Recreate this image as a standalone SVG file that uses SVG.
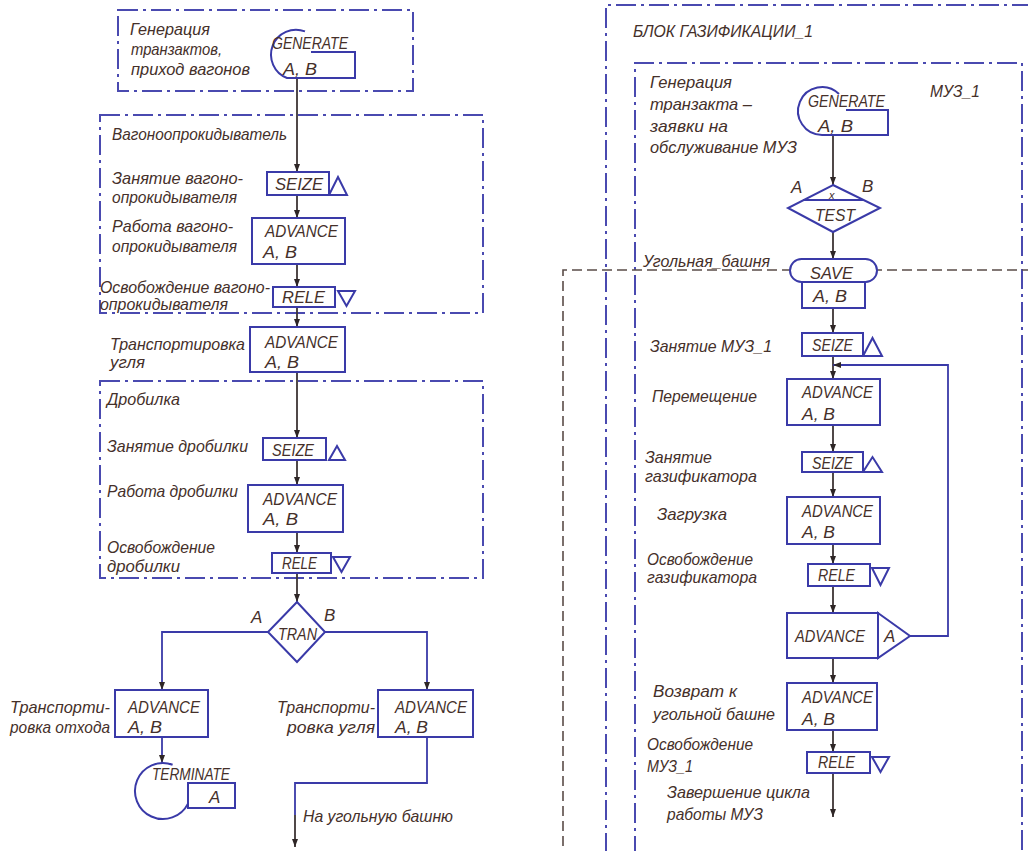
<svg xmlns="http://www.w3.org/2000/svg" width="1028" height="851" viewBox="0 0 1028 851">
<defs>
<style>
.t{font-family:'Liberation Sans',Arial,sans-serif;font-style:italic;font-size:17px;fill:#45302a}
.b{font-family:'Liberation Sans',Arial,sans-serif;font-style:italic;font-size:17px;fill:#45302a}
.blk{fill:#fff;stroke:#3a3aa8;stroke-width:2}
.ol{fill:none;stroke:#3a3aa8;stroke-width:2}
.fr{fill:none;stroke:#4a4ab0;stroke-width:2;stroke-dasharray:20 5 3 5}
.dl{fill:none;stroke:#5a4c48;stroke-width:1.6;stroke-dasharray:10 5}
.c{fill:none;stroke:#3d3535;stroke-width:1.8}
.cb{fill:none;stroke:#3a3aa8;stroke-width:1.8}
</style>
<marker id="ar" viewBox="0 0 8 6" markerWidth="8" markerHeight="6" refX="8" refY="3" orient="auto" markerUnits="userSpaceOnUse">
<path d="M0,0 L8,3 L0,6 z" fill="#2e2626"/>
</marker>
</defs>
<rect width="1028" height="851" fill="#fff"/>

<g id="frames">
<rect class="fr" x="118" y="10" width="295" height="81"/>
<rect class="fr" x="100" y="115" width="383" height="198"/>
<rect class="fr" x="100" y="381" width="383" height="197"/>
<path class="fr" d="M1032,5 H606 V856"/>
<path class="fr" d="M635,856 V63 H1022 V856"/>
<path class="dl" d="M1032,270 H563 V856"/>
</g>

<g id="connectors">
<path class="c" d="M297,78 V172" marker-end="url(#ar)"/>
<path class="c" d="M297,195 V218" marker-end="url(#ar)"/>
<path class="c" d="M297,264 V287" marker-end="url(#ar)"/>
<path class="c" d="M297,307 V327" marker-end="url(#ar)"/>
<path class="c" d="M297,372 V438" marker-end="url(#ar)"/>
<path class="c" d="M297,460 V485" marker-end="url(#ar)"/>
<path class="c" d="M297,532 V553" marker-end="url(#ar)"/>
<path class="c" d="M297,573 V602" marker-end="url(#ar)"/>
<path class="cb" d="M268,632 H162 V690" marker-end="url(#ar)"/>
<path class="cb" d="M323,632 H427 V690" marker-end="url(#ar)"/>
<path class="cb" d="M162,737 V763" marker-end="url(#ar)"/>
<path class="cb" d="M427,737 V783 H295 V815"/>
<path class="c" d="M295,815 V847" marker-end="url(#ar)"/>
<path class="c" d="M833,135 V185" marker-end="url(#ar)"/>
<path class="c" d="M833,232 V259" marker-end="url(#ar)"/>
<path class="c" d="M833,308 V333" marker-end="url(#ar)"/>
<path class="c" d="M833,356 V379" marker-end="url(#ar)"/>
<path class="c" d="M833,425 V452" marker-end="url(#ar)"/>
<path class="c" d="M833,472 V497" marker-end="url(#ar)"/>
<path class="c" d="M833,544 V564" marker-end="url(#ar)"/>
<path class="c" d="M833,586 V613" marker-end="url(#ar)"/>
<path class="c" d="M833,658 V683" marker-end="url(#ar)"/>
<path class="c" d="M833,730 V752" marker-end="url(#ar)"/>
<path class="c" d="M833,773 V817" marker-end="url(#ar)"/>
<path class="cb" d="M910,636 H948 V365 H833" marker-end="url(#ar)"/>
</g>

<!-- left column -->
<g id="gen1">
<text class="t" x="130" y="35" textLength="80" lengthAdjust="spacingAndGlyphs">Генерация</text>
<text class="t" x="131" y="55" textLength="91" lengthAdjust="spacingAndGlyphs">транзактов,</text>
<text class="t" x="131" y="75" textLength="119" lengthAdjust="spacingAndGlyphs">приход вагонов</text>
<path class="ol" d="M305,31.4 A24,24 0 1 0 287,78 H355 V52 H311"/>
<text class="b" x="272" y="49" textLength="76" lengthAdjust="spacingAndGlyphs">GENERATE</text>
<text class="b" x="283" y="75" textLength="34" lengthAdjust="spacingAndGlyphs">A, B</text>
</g>

<g id="vagon-title">
<text class="t" x="112" y="140" textLength="175" lengthAdjust="spacingAndGlyphs">Вагоноопрокидыватель</text>
</g>

<g id="seize1">
<text class="t" x="112" y="184" textLength="131" lengthAdjust="spacingAndGlyphs">Занятие вагоно-</text>
<text class="t" x="112" y="203" textLength="125" lengthAdjust="spacingAndGlyphs">опрокидывателя</text>
<rect class="blk" x="267" y="172" width="62" height="23"/>
<path class="ol" d="M329,195 L338,177 L347,195 Z"/>
<text class="b" x="275" y="190" textLength="48" lengthAdjust="spacingAndGlyphs">SEIZE</text>
</g>

<g id="adv1">
<text class="t" x="112" y="232" textLength="121" lengthAdjust="spacingAndGlyphs">Работа вагоно-</text>
<text class="t" x="112" y="252" textLength="125" lengthAdjust="spacingAndGlyphs">опрокидывателя</text>
<rect class="blk" x="252" y="218" width="93" height="46"/>
<text class="b" x="265" y="237" textLength="73" lengthAdjust="spacingAndGlyphs">ADVANCE</text>
<text class="b" x="263" y="258" textLength="34" lengthAdjust="spacingAndGlyphs">A, B</text>
</g>

<g id="rele1">
<text class="t" x="100" y="293" textLength="170" lengthAdjust="spacingAndGlyphs">Освобождение вагоно-</text>
<text class="t" x="100" y="310" textLength="128" lengthAdjust="spacingAndGlyphs">опрокидывателя</text>
<rect class="blk" x="273" y="287" width="62" height="20"/>
<path class="ol" d="M338,291 L355,291 L346.5,306 Z"/>
<text class="b" x="282" y="303" textLength="43" lengthAdjust="spacingAndGlyphs">RELE</text>
</g>

<g id="adv2">
<text class="t" x="110" y="350" textLength="135" lengthAdjust="spacingAndGlyphs">Транспортировка</text>
<text class="t" x="110" y="368" textLength="35" lengthAdjust="spacingAndGlyphs">угля</text>
<rect class="blk" x="250" y="327" width="95" height="45"/>
<text class="b" x="265" y="348" textLength="73" lengthAdjust="spacingAndGlyphs">ADVANCE</text>
<text class="b" x="265" y="368" textLength="34" lengthAdjust="spacingAndGlyphs">A, B</text>
</g>

<g id="drob-title">
<text class="t" x="107" y="405" textLength="73" lengthAdjust="spacingAndGlyphs">Дробилка</text>
</g>

<g id="seize2">
<text class="t" x="107" y="452" textLength="141" lengthAdjust="spacingAndGlyphs">Занятие дробилки</text>
<rect class="blk" x="263" y="438" width="63" height="22"/>
<path class="ol" d="M329,460 L337,446 L345,460 Z"/>
<text class="b" x="272" y="456" textLength="42" lengthAdjust="spacingAndGlyphs">SEIZE</text>
</g>

<g id="adv3">
<text class="t" x="107" y="497" textLength="131" lengthAdjust="spacingAndGlyphs">Работа дробилки</text>
<rect class="blk" x="248" y="485" width="95" height="47"/>
<text class="b" x="263" y="505" textLength="74" lengthAdjust="spacingAndGlyphs">ADVANCE</text>
<text class="b" x="263" y="525" textLength="35" lengthAdjust="spacingAndGlyphs">A, B</text>
</g>

<g id="rele2">
<text class="t" x="107" y="553" textLength="108" lengthAdjust="spacingAndGlyphs">Освобождение</text>
<text class="t" x="107" y="572" textLength="73" lengthAdjust="spacingAndGlyphs">дробилки</text>
<rect class="blk" x="272" y="553" width="59" height="20"/>
<path class="ol" d="M333,557 L350,557 L341.5,572 Z"/>
<text class="b" x="282" y="569" textLength="35" lengthAdjust="spacingAndGlyphs">RELE</text>
</g>

<g id="tran">
<path class="blk" d="M297,602 L325,632 L297,662 L268,632 Z"/>
<text class="b" x="278" y="640" textLength="39" lengthAdjust="spacingAndGlyphs">TRAN</text>
<text class="b" x="251" y="623">A</text>
<text class="b" x="324" y="621">B</text>
</g>

<g id="adv-waste">
<text class="t" x="10" y="713" textLength="100" lengthAdjust="spacingAndGlyphs">Транспорти-</text>
<text class="t" x="10" y="733" textLength="100" lengthAdjust="spacingAndGlyphs">ровка отхода</text>
<rect class="blk" x="115" y="690" width="93" height="47"/>
<text class="b" x="128" y="713" textLength="72" lengthAdjust="spacingAndGlyphs">ADVANCE</text>
<text class="b" x="128" y="733" textLength="34" lengthAdjust="spacingAndGlyphs">A, B</text>
</g>

<g id="terminate">
<path class="ol" d="M172.6,764.7 A28,28 0 1 0 188,803.6"/>
<rect class="blk" x="188" y="783" width="47" height="25"/>
<text class="b" x="152" y="780" textLength="78" lengthAdjust="spacingAndGlyphs">TERMINATE</text>
<text class="b" x="209" y="803">A</text>
</g>

<g id="adv-coal">
<text class="t" x="277" y="713" textLength="98" lengthAdjust="spacingAndGlyphs">Транспорти-</text>
<text class="t" x="287" y="733" textLength="88" lengthAdjust="spacingAndGlyphs">ровка угля</text>
<rect class="blk" x="378" y="690" width="95" height="47"/>
<text class="b" x="395" y="713" textLength="72" lengthAdjust="spacingAndGlyphs">ADVANCE</text>
<text class="b" x="395" y="733" textLength="33" lengthAdjust="spacingAndGlyphs">A, B</text>
</g>

<g id="to-tower">
<text class="t" x="303" y="822" textLength="150" lengthAdjust="spacingAndGlyphs">На угольную башню</text>
</g>

<!-- right column -->
<g id="block-title">
<text class="t" x="633" y="37" textLength="180" lengthAdjust="spacingAndGlyphs">БЛОК ГАЗИФИКАЦИИ_1</text>
<text class="t" x="930" y="97" textLength="50" lengthAdjust="spacingAndGlyphs">МУЗ_1</text>
</g>

<g id="gen2">
<text class="t" x="650" y="88" textLength="82" lengthAdjust="spacingAndGlyphs">Генерация</text>
<text class="t" x="650" y="110" textLength="102" lengthAdjust="spacingAndGlyphs">транзакта –</text>
<text class="t" x="650" y="132" textLength="78" lengthAdjust="spacingAndGlyphs">заявки на</text>
<text class="t" x="650" y="153" textLength="147" lengthAdjust="spacingAndGlyphs">обслуживание МУЗ</text>
<path class="ol" d="M839,94 A24,24 0 1 0 822,135 H888 V110 H846"/>
<text class="b" x="808" y="107" textLength="77" lengthAdjust="spacingAndGlyphs">GENERATE</text>
<text class="b" x="818" y="132" textLength="35" lengthAdjust="spacingAndGlyphs">A, B</text>
</g>

<g id="test">
<path class="blk" d="M833,185 L880,208 L833,232 L788,208 Z"/>
<path class="ol" d="M803,200 H863" stroke-width="1.5"/>
<text class="b" x="829" y="199" style="font-size:11px">x</text>
<text class="b" x="815" y="221" textLength="40" lengthAdjust="spacingAndGlyphs">TEST</text>
<text class="b" x="791" y="193">A</text>
<text class="b" x="862" y="192">B</text>
</g>

<g id="save">
<text class="t" x="643" y="267" textLength="127" lengthAdjust="spacingAndGlyphs">Угольная_башня</text>
<rect class="blk" x="790" y="259" width="87" height="23" rx="11.5"/>
<rect class="blk" x="802" y="282" width="63" height="26"/>
<text class="b" x="810" y="279" textLength="43" lengthAdjust="spacingAndGlyphs">SAVE</text>
<text class="b" x="813" y="302" textLength="34" lengthAdjust="spacingAndGlyphs">A, B</text>
</g>

<g id="seize-muz">
<text class="t" x="650" y="352" textLength="122" lengthAdjust="spacingAndGlyphs">Занятие МУЗ_1</text>
<rect class="blk" x="802" y="333" width="61" height="23"/>
<path class="ol" d="M863,356 L872.5,338 L882,356 Z"/>
<text class="b" x="812" y="351" textLength="41" lengthAdjust="spacingAndGlyphs">SEIZE</text>
</g>

<g id="adv-move">
<text class="t" x="652" y="402" textLength="105" lengthAdjust="spacingAndGlyphs">Перемещение</text>
<rect class="blk" x="787" y="379" width="93" height="46"/>
<text class="b" x="802" y="398" textLength="71" lengthAdjust="spacingAndGlyphs">ADVANCE</text>
<text class="b" x="802" y="420" textLength="33" lengthAdjust="spacingAndGlyphs">A, B</text>
</g>

<g id="seize-gas">
<text class="t" x="645" y="463" textLength="67" lengthAdjust="spacingAndGlyphs">Занятие</text>
<text class="t" x="645" y="482" textLength="112" lengthAdjust="spacingAndGlyphs">газификатора</text>
<rect class="blk" x="802" y="452" width="61" height="20"/>
<path class="ol" d="M863,472 L872.5,457 L882,472 Z"/>
<text class="b" x="812" y="469" textLength="41" lengthAdjust="spacingAndGlyphs">SEIZE</text>
</g>

<g id="adv-load">
<text class="t" x="657" y="520" textLength="70" lengthAdjust="spacingAndGlyphs">Загрузка</text>
<rect class="blk" x="787" y="497" width="93" height="47"/>
<text class="b" x="802" y="517" textLength="71" lengthAdjust="spacingAndGlyphs">ADVANCE</text>
<text class="b" x="802" y="538" textLength="33" lengthAdjust="spacingAndGlyphs">A, B</text>
</g>

<g id="rele-gas">
<text class="t" x="647" y="565" textLength="106" lengthAdjust="spacingAndGlyphs">Освобождение</text>
<text class="t" x="647" y="583" textLength="110" lengthAdjust="spacingAndGlyphs">газификатора</text>
<rect class="blk" x="808" y="564" width="62" height="22"/>
<path class="ol" d="M872,568 L889,568 L880.5,585 Z"/>
<text class="b" x="818" y="581" textLength="37" lengthAdjust="spacingAndGlyphs">RELE</text>
</g>

<g id="adv-loop">
<rect class="blk" x="787" y="613" width="91" height="45"/>
<path class="blk" d="M878,613 L910,636 L878,658 Z"/>
<text class="b" x="795" y="642" textLength="70" lengthAdjust="spacingAndGlyphs">ADVANCE</text>
<text class="b" x="884" y="642">A</text>
</g>

<g id="adv-return">
<text class="t" x="653" y="697" textLength="84" lengthAdjust="spacingAndGlyphs">Возврат к</text>
<text class="t" x="653" y="720" textLength="122" lengthAdjust="spacingAndGlyphs">угольной башне</text>
<rect class="blk" x="787" y="683" width="90" height="47"/>
<text class="b" x="802" y="703" textLength="71" lengthAdjust="spacingAndGlyphs">ADVANCE</text>
<text class="b" x="802" y="725" textLength="33" lengthAdjust="spacingAndGlyphs">A, B</text>
</g>

<g id="rele-muz">
<text class="t" x="647" y="750" textLength="106" lengthAdjust="spacingAndGlyphs">Освобождение</text>
<text class="t" x="647" y="772" textLength="46" lengthAdjust="spacingAndGlyphs">МУЗ_1</text>
<rect class="blk" x="807" y="752" width="63" height="21"/>
<path class="ol" d="M872,757 L889,757 L880.5,772 Z"/>
<text class="b" x="818" y="768" textLength="37" lengthAdjust="spacingAndGlyphs">RELE</text>
</g>

<g id="end-cycle">
<text class="t" x="667" y="798" textLength="143" lengthAdjust="spacingAndGlyphs">Завершение цикла</text>
<text class="t" x="667" y="820" textLength="96" lengthAdjust="spacingAndGlyphs">работы МУЗ</text>
</g>
</svg>
